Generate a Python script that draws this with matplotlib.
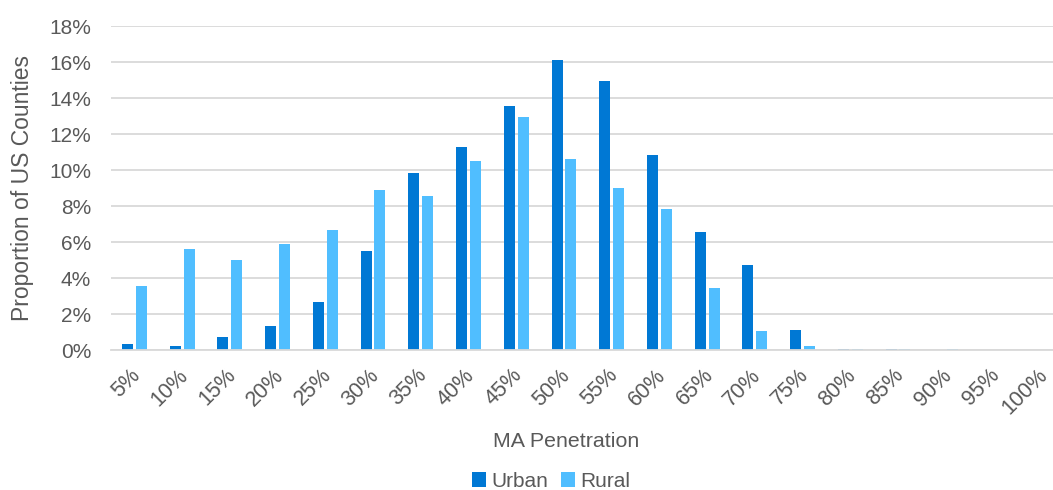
import matplotlib
matplotlib.use("Agg")
import matplotlib.pyplot as plt
from matplotlib.patches import Patch
import numpy as np

categories = ["5%", "10%", "15%", "20%", "25%", "30%", "35%", "40%", "45%", "50%",
              "55%", "60%", "65%", "70%", "75%", "80%", "85%", "90%", "95%", "100%"]
urban = [0.33, 0.24, 0.74, 1.34, 2.68, 5.49, 9.82, 11.28, 13.57, 16.11,
         14.93, 10.85, 6.53, 4.73, 1.09, 0.06, 0.06, 0.0, 0.0, 0.0]
rural = [3.54, 5.60, 4.99, 5.90, 6.64, 8.89, 8.54, 10.50, 12.96, 10.61,
         9.00, 7.82, 3.42, 1.05, 0.22, 0.03, 0.03, 0.03, 0.0, 0.0]
yticks = list(range(0, 20, 2))

URBAN_C = "#0078D4"
RURAL_C = "#50BEFF"
TEXT_C = "#595959"
GRID_C = "#D9D9D9"

plt.rcParams["font.family"] = ["Liberation Sans", "DejaVu Sans"]

W, H = 1053, 490
fig = plt.figure(figsize=(W / 100, H / 100), dpi=100)
# plot area runs past the right edge of the canvas
left, right = 110.6, 1065.0
top, bottom = 26.0, 350.0
ax = fig.add_axes([left / W, 1 - bottom / H, (right - left) / W, (bottom - top) / H])

x = np.arange(len(categories))
bw = 0.23
ax.bar(x - 0.145, urban, width=bw, color=URBAN_C, linewidth=0, zorder=3)
ax.bar(x + 0.145, rural, width=bw, color=RURAL_C, linewidth=0, zorder=3)

ax.set_xlim(-0.5, len(categories) - 0.5)
ax.set_ylim(0, 18)
ax.set_yticks(yticks)
ax.set_yticklabels([f"{v}%" for v in yticks], fontsize=15, color=TEXT_C)
ax.yaxis.grid(True, color=GRID_C, linewidth=1.3, zorder=0)
ax.tick_params(axis="y", length=0, pad=14)

ax.set_xticks(x + 0.06)
ax.set_xticklabels(categories, rotation=45, ha="right", va="center",
                   rotation_mode="anchor", fontsize=15.5, color=TEXT_C)
ax.tick_params(axis="x", length=0, pad=16)

for s in ["top", "right", "left"]:
    ax.spines[s].set_visible(False)
ax.spines["bottom"].set_color(GRID_C)
ax.spines["bottom"].set_linewidth(1.3)
ax.spines["bottom"].set_zorder(4)

fig.text(23 / W, 1 - 188 / H, "Proportion of US Counties", rotation=90,
         ha="center", va="center", fontsize=16.5, color=TEXT_C)
fig.text(566 / W, 1 - 441 / H, "MA Penetration", ha="center", va="center",
         fontsize=15.4, color=TEXT_C)

handles = [Patch(facecolor=URBAN_C, label="Urban"), Patch(facecolor=RURAL_C, label="Rural")]
fig.legend(handles=handles, loc="center", bbox_to_anchor=(551 / W, 1 - 481 / H),
           ncol=2, frameon=False, fontsize=15, handlelength=0.7, handleheight=0.7,
           handletextpad=0.25, columnspacing=0.6, labelcolor=TEXT_C)

fig.savefig("out.png", dpi=100)
